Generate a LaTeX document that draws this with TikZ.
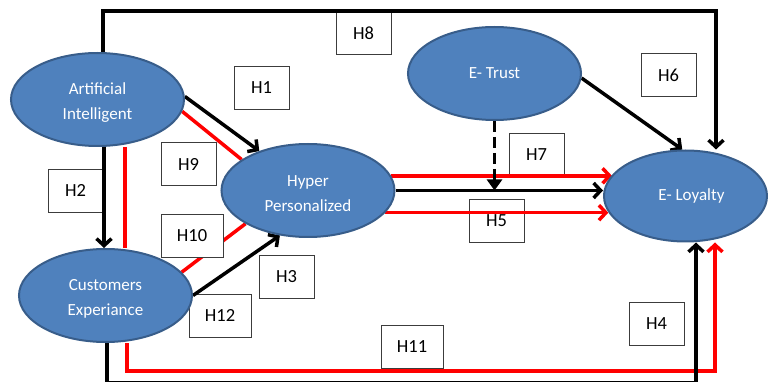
\documentclass[tikz,border=0pt]{standalone}
\usepackage{fontspec}
\setmainfont{Carlito}
\usetikzlibrary{shapes.geometric,arrows.meta}
\pgfdeclarelayer{bg}
\pgfdeclarelayer{lines}
\pgfsetlayers{bg,lines,main}
\definecolor{ellfill}{RGB}{79,129,189}
\definecolor{elldraw}{RGB}{56,93,138}
\definecolor{boxdraw}{RGB}{60,60,60}
\definecolor{myred}{RGB}{255,0,0}
\tikzset{
  construct/.style={ellipse, fill=ellfill, draw=elldraw, line width=2pt,
    minimum width=173pt, minimum height=93pt, inner sep=0pt, text=white,
    align=center, font=\fontsize{17}{25}\selectfont},
  hbox/.style={draw=boxdraw, fill=white, line width=0.9pt, minimum width=55pt,
    minimum height=43pt, inner sep=0pt, font=\fontsize{18.5}{20}\selectfont},
  hboxw/.style={hbox, minimum width=62pt},
  blk/.style={draw=black, line width=3.5pt},
  redl/.style={draw=myred, line width=3.5pt},
  barb/.style={-{Straight Barb[length=7pt,width=15pt]}},
  tri/.style={-{Triangle[length=11pt,width=15pt]}},
}
\begin{document}
\begin{tikzpicture}[x=1pt,y=-1pt]
\useasboundingbox (0,0) rectangle (769,382);

% constructs
\node[construct] (ai) at (97.5,99.5) {\rule{0pt}{17pt}Artificial\\Intelligent};
\node[construct] (hyp) at (308,190.5) {\rule{0pt}{17pt}Hyper\\Personalized};
\node[construct] (ce) at (105.5,295.5) {\rule{0pt}{17pt}Customers\\Experiance};
\node[construct] (et) at (494.5,73.5) {E- Trust};
\node[construct, minimum width=163pt, minimum height=91pt] (loy) at (685.5,196) {\hspace*{12pt}E- Loyalty};

% hypothesis boxes
\begin{pgfonlayer}{bg}
\node[hbox] (h8) at (363.5,33) {H8};
\node[hbox] (h1) at (261.5,88) {H1};
\node[hbox] (h9) at (188.5,164) {H9};
\node[hbox] (h2) at (75.5,190.5) {H2};
\node[hbox] (h3) at (286.5,276.5) {H3};
\node[hboxw] (h12) at (220,315.5) {H12};
\node[hbox] (h7) at (536.5,154.5) {H7};
\node[hbox] (h6) at (668.5,75) {H6};
\node[hbox] (h5) at (496.5,221) {H5};
\node[hbox] (h4) at (656.5,324) {H4};
\node[hboxw] (h11) at (412,346.5) {H11};
\end{pgfonlayer}

% connectors
\coordinate (c8a) at (103,11);
\coordinate (c8b) at (716,11);
\coordinate (c2) at (104,200);
\coordinate (c9) at (125,200);
\coordinate (c11a) at (127,371);
\coordinate (c11b) at (715,371);
\coordinate (c4a) at (107,382.9);
\coordinate (c4b) at (696,382.9);
\begin{pgfonlayer}{lines}
\draw[blk,barb] (ai.north -| c8a) -- (c8a) -- (c8b) -- (c8b |- loy.north);
\draw[blk,barb] (ai.south -| c2) -- (ce.north -| c2);
\draw[redl] (ai.south -| c9) -- (ce.north -| c9);
\draw[redl] (ai.-8) -- (hyp.155);
\draw[blk,barb] (ai.2) -- (hyp.141);
\draw[redl] (ce.17) -- (hyp.208);
\draw[blk,barb] (ce.east) -- (hyp.238);
\draw[redl,barb] (hyp.10) -- (hyp.10 -| loy.164);
\draw[blk,barb] (hyp.east) -- (hyp.east -| loy.west);
\draw[redl,barb] (hyp.-16) -- (hyp.-16 -| loy.192);
\draw[blk,tri,dash pattern=on 11pt off 5pt] (et.south) -- (et.south |- hyp.east);
\draw[blk,barb] (et.-3) -- (loy.94);
\draw[redl,barb] (ce.south -| c11a) -- (c11a) -- (c11b) -- (c11b |- loy.south);
\draw[blk,barb] (ce.south -| c4a) -- (c4a) -- (c4b) -- (c4b |- loy.south);
\end{pgfonlayer}

\node[hboxw] (h10) at (192,235.5) {H10};
\end{tikzpicture}
\end{document}
